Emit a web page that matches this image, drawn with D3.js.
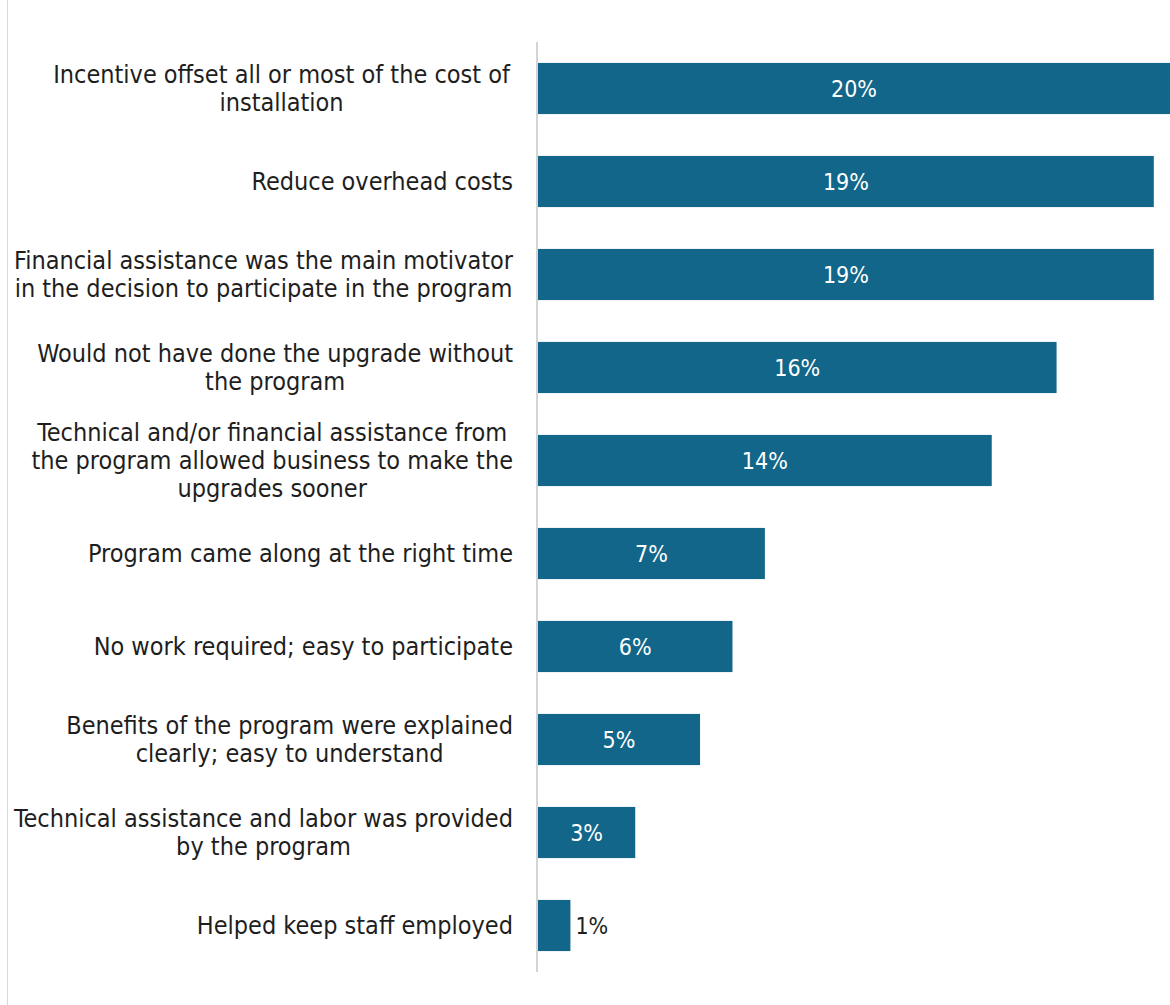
<!DOCTYPE html>
<html>
<head>
<meta charset="utf-8">
<script src="https://cdn.jsdelivr.net/npm/d3@7"></script>
<style>
  html, body { margin: 0; padding: 0; background: #fff; }
  svg { display: block; }
</style>
</head>
<body>
<svg id="chart" width="1170" height="1005"></svg>
<script>
// Reasons for participating, each label split into its display lines
const categories = [
  ["Incentive offset all or most of the cost of", "installation"],
  ["Reduce overhead costs"],
  ["Financial assistance was the main motivator", "in the decision to participate in the program"],
  ["Would not have done the upgrade without", "the program"],
  ["Technical and/or financial assistance from", "the program allowed business to make the", "upgrades sooner"],
  ["Program came along at the right time"],
  ["No work required; easy to participate"],
  ["Benefits of the program were explained", "clearly; easy to understand"],
  ["Technical assistance and labor was provided", "by the program"],
  ["Helped keep staff employed"]
];
const values = [20, 19, 19, 16, 14, 7, 6, 5, 3, 1];
const valueLabels = ["20%", "19%", "19%", "16%", "14%", "7%", "6%", "5%", "3%", "1%"];

const W = 1170, H = 1005;
const barColor = "#126689";
const textColor = "#1e1e1e";
const fontFamily = "'DejaVu Sans Condensed', 'Liberation Sans Narrow', sans-serif";
const labelRight = 513;

const svg = d3.select("#chart");
const idx = d3.range(values.length);

const x = d3.scaleLinear().domain([0, 19.5]).range([538, 1170]);
const y = d3.scaleBand().domain(idx).range([42, 972]).paddingInner(0.45).paddingOuter(0.225);

// thin frame line on the left edge
svg.append("line")
  .attr("x1", 7.5).attr("x2", 7.5).attr("y1", 0).attr("y2", H)
  .attr("stroke", "#d9d9d9").attr("stroke-width", 1);

// bars
svg.append("g").selectAll("rect")
  .data(idx)
  .join("rect")
  .attr("x", x(0))
  .attr("y", i => y(i))
  .attr("width", i => x(values[i]) - x(0))
  .attr("height", y.bandwidth())
  .attr("fill", barColor);

// category axis line
svg.append("line")
  .attr("x1", x(0) - 1).attr("x2", x(0) - 1)
  .attr("y1", 42).attr("y2", 972)
  .attr("stroke", "#d4d4d4").attr("stroke-width", 2);

// category labels: each block ends at labelRight, lines centred within the block
const lineH = 28;
const labels = svg.append("g")
  .attr("font-family", fontFamily)
  .attr("font-size", 25)
  .attr("fill", textColor)
  .attr("text-anchor", "middle");
idx.forEach(i => {
  const lines = categories[i];
  const cy = y(i) + y.bandwidth() / 2;
  const t = labels.append("text")
    .attr("y", cy - (lines.length - 1) * lineH / 2);
  const spans = lines.map((ln, k) => t.append("tspan")
    .attr("dy", k === 0 ? "0.35em" : lineH)
    .text(ln));
  const maxW = d3.max(spans, s => s.node().getComputedTextLength());
  const cx = labelRight - maxW / 2;
  spans.forEach(s => s.attr("x", cx));
});

// value labels: centred inside the bar, or just outside when the bar is too short
const vl = svg.append("g")
  .attr("font-family", fontFamily)
  .attr("font-size", 23);
idx.forEach(i => {
  const w = x(values[i]) - x(0);
  const inside = w > 50;
  const xEnd = Math.min(x(values[i]), W);
  vl.append("text")
    .attr("x", inside ? (x(0) + xEnd) / 2 : x(values[i]) + 5)
    .attr("y", y(i) + y.bandwidth() / 2)
    .attr("dy", "0.35em")
    .attr("text-anchor", inside ? "middle" : "start")
    .attr("fill", inside ? "#ffffff" : textColor)
    .text(valueLabels[i]);
});
</script>
</body>
</html>
